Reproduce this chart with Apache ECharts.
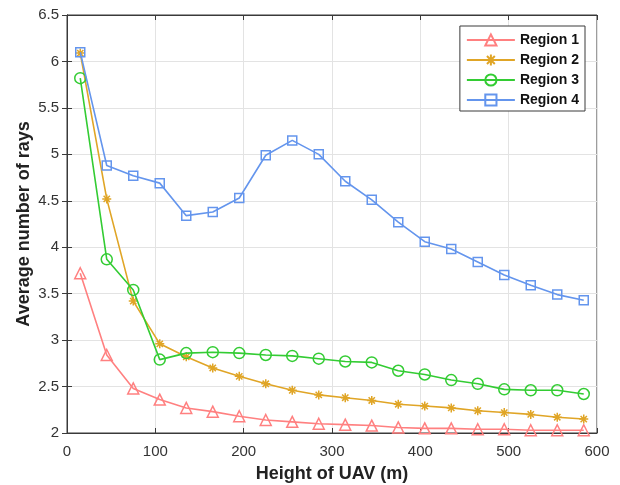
<!DOCTYPE html>
<html><head><meta charset="utf-8">
<script src="https://cdn.jsdelivr.net/npm/echarts@6/dist/echarts.min.js"></script>
<style>html,body{margin:0;padding:0;background:#fff}#c{width:620px;height:485px}</style>
</head><body><div id="c"></div>
<script>
const heights = [15,45,75,105,135,165,195,225,255,285,315,345,375,405,435,465,495,525,555,585];
const region1 = [3.72,2.84,2.48,2.36,2.27,2.23,2.18,2.14,2.12,2.10,2.09,2.08,2.06,2.05,2.05,2.04,2.04,2.03,2.03,2.03];
const region2 = [6.09,4.52,3.42,2.96,2.82,2.70,2.61,2.53,2.46,2.41,2.38,2.35,2.31,2.29,2.27,2.24,2.22,2.20,2.17,2.15];
const region3 = [5.82,3.87,3.54,2.79,2.86,2.87,2.86,2.84,2.83,2.80,2.77,2.76,2.67,2.63,2.57,2.53,2.47,2.46,2.46,2.42];
const region4 = [6.10,4.88,4.77,4.69,4.34,4.38,4.53,4.99,5.15,5.00,4.71,4.51,4.27,4.06,3.98,3.84,3.70,3.59,3.49,3.43];
const names = ['Region 1','Region 2','Region 3','Region 4'];
const colors = ['#FF8080','#E0A526','#33CC33','#6495ED'];
const symbols = ['triangle','path://M5,0L5,10M0,5L10,5M1.5,1.5L8.5,8.5M1.5,8.5L8.5,1.5','circle','rect'];
const sizes = [11,9,11,9];
const allData = [region1, region2, region3, region4];
const font = 'Liberation Sans, Arial, sans-serif';

const series = allData.map((vals, i) => ({
  name: names[i], type: 'line', xAxisIndex: 0, yAxisIndex: 0,
  data: heights.map((h, k) => [h, vals[k]]),
  symbol: symbols[i], symbolSize: sizes[i],
  showAllSymbol: true,
  lineStyle: {color: colors[i], width: 1.6},
  itemStyle: {color: i === 1 ? colors[i] : 'rgba(255,255,255,0)', borderColor: colors[i], borderWidth: 1.5},
  emphasis: {disabled: true},
  z: 3 + i
}));

const chart = echarts.init(document.getElementById('c'), null, {renderer: 'canvas'});
chart.setOption({
  animation: false,
  backgroundColor: '#fff',
  textStyle: {fontFamily: font},
  grid: {left: 67, right: 23, top: 15, bottom: 52, show: true, borderColor: '#3a3a3a', borderWidth: 1,
         containLabel: false, outerBoundsMode: 'none'},
  legend: {
    right: 35, top: 26, orient: 'vertical',
    backgroundColor: '#fff', borderColor: '#3a3a3a', borderWidth: 1,
    padding: [7, 6, 4, 6], itemGap: 6, itemWidth: 48, itemHeight: 14,
    textStyle: {fontFamily: font, fontSize: 14, fontWeight: 'bold', color: '#111'},
    data: names
  },
  xAxis: [{
    type: 'value', min: 0, max: 600, interval: 100, position: 'bottom',
    name: 'Height of UAV (m)', nameLocation: 'middle', nameGap: 32, nameMoveOverlap: false,
    nameTextStyle: {fontFamily: font, fontSize: 18, fontWeight: 'bold', color: '#222'},
    axisLine: {show: true, onZero: false, lineStyle: {color: '#3a3a3a'}},
    axisTick: {show: true, inside: true, length: 5, lineStyle: {color: '#3a3a3a'}},
    axisLabel: {fontFamily: font, fontSize: 15, color: '#333', margin: 11},
    splitLine: {show: true, lineStyle: {color: '#e3e3e3'}}
  }, {
    type: 'value', min: 0, max: 600, interval: 100, position: 'top',
    axisLine: {show: true, lineStyle: {color: '#3a3a3a'}},
    axisTick: {show: true, inside: true, length: 5, lineStyle: {color: '#3a3a3a'}},
    axisLabel: {show: false}, splitLine: {show: false}
  }],
  yAxis: [{
    type: 'value', min: 2, max: 6.5, interval: 0.5, position: 'left',
    name: 'Average number of rays', nameLocation: 'middle', nameGap: 34, nameMoveOverlap: false,
    nameTextStyle: {fontFamily: font, fontSize: 18, fontWeight: 'bold', color: '#222'},
    axisLine: {show: true, onZero: false, lineStyle: {color: '#3a3a3a'}},
    axisTick: {show: true, inside: true, length: 5, lineStyle: {color: '#3a3a3a'}},
    axisLabel: {fontFamily: font, fontSize: 15, color: '#333', margin: 8},
    splitLine: {show: true, lineStyle: {color: '#e3e3e3'}}
  }, {
    type: 'value', min: 2, max: 6.5, interval: 0.5, position: 'right',
    axisLine: {show: true, lineStyle: {color: '#3a3a3a'}},
    axisTick: {show: true, inside: true, length: 5, lineStyle: {color: '#3a3a3a'}},
    axisLabel: {show: false}, splitLine: {show: false}
  }],
  series: series
});
</script></body></html>
